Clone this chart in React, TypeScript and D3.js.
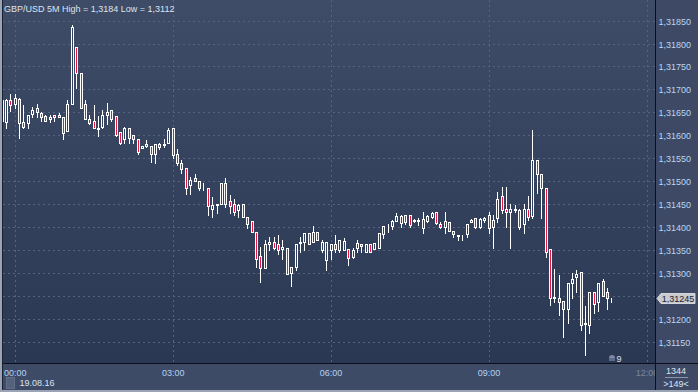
import React from 'react';
import * as d3 from 'd3';

// 5-minute candles, first one at 23:45 on 18.08.16
const startTime = new Date(2016, 7, 18, 23, 45);
const opens = [
  1.31631, 1.31629, 1.31677, 1.31669, 1.31679, 1.31629, 1.31626, 1.31646, 1.31659, 1.31648,
  1.31643, 1.31635, 1.31645, 1.31645, 1.31640, 1.31610, 1.31669, 1.31792, 1.31735, 1.31668,
  1.31635, 1.31631, 1.31614, 1.31618, 1.31645, 1.31655, 1.31642, 1.31606, 1.31592, 1.31615,
  1.31600, 1.31592, 1.31573, 1.31576, 1.31577, 1.31560, 1.31581, 1.31578, 1.31584, 1.31616,
  1.31560, 1.31540, 1.31529, 1.31491, 1.31506, 1.31501, 1.31487, 1.31485, 1.31440, 1.31447,
  1.31451, 1.31495, 1.31457, 1.31451, 1.31437, 1.31451, 1.31421, 1.31412, 1.31389, 1.31336,
  1.31311, 1.31362, 1.31368, 1.31363, 1.31351, 1.31355, 1.31300, 1.31312, 1.31365, 1.31368,
  1.31386, 1.31368, 1.31389, 1.31349, 1.31328, 1.31349, 1.31362, 1.31349, 1.31349, 1.31352,
  1.31335, 1.31355, 1.31362, 1.31346, 1.31362, 1.31352, 1.31355, 1.31384, 1.31401, 1.31402,
  1.31413, 1.31408, 1.31426, 1.31426, 1.31413, 1.31414, 1.31397, 1.31413, 1.31422, 1.31432,
  1.31406, 1.31400, 1.31411, 1.31391, 1.31382, 1.31382, 1.31384, 1.31410, 1.31419, 1.31400,
  1.31415, 1.31426, 1.31400, 1.31420, 1.31467, 1.31440, 1.31432, 1.31440, 1.31436, 1.31406,
  1.31440, 1.31424, 1.31546, 1.31515, 1.31486, 1.31351, 1.31245, 1.31246, 1.31238, 1.31221,
  1.31277, 1.31291, 1.31301, 1.31190, 1.31187, 1.31258, 1.31237, 1.31282, 1.31258, 1.31246,
];
const highs = [
  1.31685, 1.31679, 1.31690, 1.31690, 1.31681, 1.31666, 1.31645, 1.31661, 1.31669, 1.31650,
  1.31644, 1.31644, 1.31645, 1.31649, 1.31640, 1.31677, 1.31840, 1.31792, 1.31735, 1.31677,
  1.31645, 1.31666, 1.31642, 1.31655, 1.31670, 1.31655, 1.31642, 1.31606, 1.31619, 1.31615,
  1.31600, 1.31592, 1.31577, 1.31589, 1.31577, 1.31580, 1.31582, 1.31591, 1.31616, 1.31616,
  1.31569, 1.31546, 1.31529, 1.31508, 1.31515, 1.31501, 1.31495, 1.31485, 1.31466, 1.31451,
  1.31495, 1.31506, 1.31469, 1.31462, 1.31451, 1.31451, 1.31421, 1.31412, 1.31389, 1.31357,
  1.31371, 1.31379, 1.31379, 1.31382, 1.31371, 1.31355, 1.31312, 1.31362, 1.31379, 1.31386,
  1.31386, 1.31402, 1.31389, 1.31371, 1.31368, 1.31362, 1.31382, 1.31371, 1.31376, 1.31352,
  1.31354, 1.31371, 1.31362, 1.31362, 1.31362, 1.31366, 1.31386, 1.31402, 1.31406, 1.31415,
  1.31430, 1.31426, 1.31426, 1.31426, 1.31417, 1.31419, 1.31432, 1.31427, 1.31432, 1.31432,
  1.31411, 1.31433, 1.31411, 1.31391, 1.31382, 1.31383, 1.31406, 1.31417, 1.31420, 1.31419,
  1.31421, 1.31432, 1.31426, 1.31477, 1.31488, 1.31488, 1.31451, 1.31448, 1.31440, 1.31451,
  1.31468, 1.31611, 1.31546, 1.31515, 1.31486, 1.31351, 1.31308, 1.31295, 1.31238, 1.31277,
  1.31300, 1.31307, 1.31301, 1.31227, 1.31258, 1.31258, 1.31277, 1.31286, 1.31266, 1.31246,
];
const lows = [
  1.31629, 1.31615, 1.31653, 1.31660, 1.31595, 1.31615, 1.31615, 1.31640, 1.31640, 1.31632,
  1.31630, 1.31629, 1.31632, 1.31639, 1.31591, 1.31610, 1.31669, 1.31702, 1.31660, 1.31635,
  1.31625, 1.31615, 1.31599, 1.31615, 1.31625, 1.31631, 1.31599, 1.31580, 1.31584, 1.31584,
  1.31584, 1.31560, 1.31573, 1.31575, 1.31542, 1.31539, 1.31570, 1.31575, 1.31584, 1.31551,
  1.31535, 1.31517, 1.31472, 1.31472, 1.31502, 1.31480, 1.31480, 1.31426, 1.31422, 1.31431,
  1.31451, 1.31443, 1.31430, 1.31425, 1.31422, 1.31422, 1.31397, 1.31389, 1.31312, 1.31280,
  1.31311, 1.31349, 1.31351, 1.31342, 1.31331, 1.31297, 1.31271, 1.31306, 1.31346, 1.31349,
  1.31363, 1.31368, 1.31371, 1.31345, 1.31306, 1.31331, 1.31346, 1.31346, 1.31349, 1.31317,
  1.31332, 1.31346, 1.31346, 1.31346, 1.31346, 1.31352, 1.31355, 1.31375, 1.31389, 1.31395,
  1.31413, 1.31400, 1.31406, 1.31400, 1.31411, 1.31404, 1.31386, 1.31411, 1.31419, 1.31406,
  1.31397, 1.31386, 1.31391, 1.31379, 1.31371, 1.31371, 1.31379, 1.31410, 1.31397, 1.31397,
  1.31411, 1.31386, 1.31355, 1.31411, 1.31430, 1.31400, 1.31355, 1.31432, 1.31395, 1.31386,
  1.31415, 1.31419, 1.31473, 1.31420, 1.31335, 1.31230, 1.31237, 1.31208, 1.31160, 1.31191,
  1.31244, 1.31258, 1.31175, 1.31120, 1.31168, 1.31213, 1.31216, 1.31249, 1.31221, 1.31237,
];
const closes = [
  1.31677, 1.31677, 1.31665, 1.31681, 1.31627, 1.31617, 1.31645, 1.31655, 1.31650, 1.31640,
  1.31630, 1.31640, 1.31640, 1.31640, 1.31605, 1.31669, 1.31835, 1.31735, 1.31660, 1.31635,
  1.31626, 1.31615, 1.31616, 1.31645, 1.31651, 1.31635, 1.31600, 1.31584, 1.31615, 1.31594,
  1.31592, 1.31564, 1.31577, 1.31580, 1.31560, 1.31580, 1.31575, 1.31581, 1.31611, 1.31557,
  1.31540, 1.31526, 1.31485, 1.31502, 1.31501, 1.31486, 1.31488, 1.31445, 1.31448, 1.31451,
  1.31495, 1.31451, 1.31445, 1.31432, 1.31447, 1.31422, 1.31406, 1.31389, 1.31331, 1.31311,
  1.31362, 1.31368, 1.31355, 1.31349, 1.31357, 1.31297, 1.31312, 1.31362, 1.31368, 1.31386,
  1.31363, 1.31389, 1.31371, 1.31367, 1.31368, 1.31362, 1.31352, 1.31371, 1.31369, 1.31333,
  1.31349, 1.31366, 1.31359, 1.31362, 1.31346, 1.31366, 1.31386, 1.31402, 1.31402, 1.31413,
  1.31424, 1.31424, 1.31411, 1.31404, 1.31415, 1.31415, 1.31417, 1.31424, 1.31430, 1.31408,
  1.31400, 1.31413, 1.31391, 1.31384, 1.31381, 1.31383, 1.31406, 1.31415, 1.31400, 1.31417,
  1.31420, 1.31397, 1.31416, 1.31461, 1.31436, 1.31432, 1.31440, 1.31436, 1.31400, 1.31440,
  1.31421, 1.31546, 1.31515, 1.31485, 1.31346, 1.31246, 1.31247, 1.31237, 1.31221, 1.31277,
  1.31286, 1.31297, 1.31187, 1.31189, 1.31258, 1.31232, 1.31277, 1.31250, 1.31246, 1.31245,
];

const priceTicks = [1.3115, 1.312, 1.3125, 1.313, 1.3135, 1.314, 1.3145, 1.315, 1.3155, 1.316, 1.3165, 1.317, 1.3175, 1.318, 1.3185];
const timeTickLabels = ['00:00', '03:00', '06:00', '09:00', '12:00'];
const timeTickHours = [0, 3, 6, 9, 12];
const title = 'GBP/USD 5M High = 1,3184 Low = 1,3112';
const lastPrice = 1.31245;
const dateLabel = '19.08.16';
const cornerTop = '1344';
const cornerBottom = '>149<';
const barsLeft = '9';

const W = 698;
const H = 392;
const plotRight = 655;
const plotBottom = 363;
const FONT = '"Liberation Sans", Arial, sans-serif';

const fmtPrice = (p: number) => p.toFixed(5).replace('.', ',');

export default function App() {
  const x = d3
    .scaleTime()
    .domain([new Date(2016, 7, 19, 0, 0), new Date(2016, 7, 19, 12, 0)])
    .range([15.2, 647]);
  const y = d3.scaleLinear().domain([1.3115, 1.3185]).range([341.6, 20.6]);

  const candles = opens.map((o, i) => ({
    t: new Date(startTime.getTime() + i * 5 * 60 * 1000),
    o,
    h: highs[i],
    l: lows[i],
    c: closes[i],
  }));

  const red = '#e3173f';
  const white = '#ffffff';
  const ly = Math.round(y(lastPrice));

  return (
    <svg
      width={W}
      height={H}
      style={{ position: 'fixed', left: 0, top: 0, display: 'block' }}
      fontFamily={FONT}
    >
      <defs>
        <linearGradient id="plotbg" x1="0" y1="0" x2="0" y2="1">
          <stop offset="0" stopColor="#3f4c68" />
          <stop offset="1" stopColor="#2b3853" />
        </linearGradient>
        <clipPath id="plotclip">
          <rect x={3} y={0} width={plotRight - 3} height={plotBottom} />
        </clipPath>
        <clipPath id="botclip">
          <rect x={3} y={plotBottom} width={plotRight - 3} height={H - plotBottom} />
        </clipPath>
      </defs>

      {/* backgrounds */}
      <rect x={0} y={0} width={W} height={H} fill="#3d4965" />
      <rect x={3} y={0} width={plotRight - 3} height={plotBottom} fill="url(#plotbg)" />
      <rect x={3} y={plotBottom + 1} width={plotRight - 3} height={H - plotBottom - 3} fill="#3e4b67" />

      {/* grid */}
      <g clipPath="url(#plotclip)">
        {priceTicks.map((p) => (
          <line
            key={'h' + p}
            x1={3}
            x2={plotRight}
            y1={Math.round(y(p)) + 0.5}
            y2={Math.round(y(p)) + 0.5}
            stroke="#56637e"
            strokeDasharray="2,3"
          />
        ))}
        {timeTickHours.map((hh) => {
          const xx = Math.round(x(new Date(2016, 7, 19, hh, 0))) + 0.5;
          return (
            <line key={'v' + hh} x1={xx} x2={xx} y1={0} y2={plotBottom} stroke="#56637e" strokeDasharray="2,3" />
          );
        })}
      </g>

      {/* candles */}
      <g clipPath="url(#plotclip)">
        {candles.map((d, i) => {
          const cx = x(d.t);
          const left = Math.round(cx - 1.5);
          const top = Math.round(y(Math.max(d.o, d.c)));
          const bot = Math.round(y(Math.min(d.o, d.c)));
          const up = d.c >= d.o;
          return (
            <g key={i}>
              <line
                x1={left + 1.5}
                x2={left + 1.5}
                y1={Math.round(y(d.h))}
                y2={Math.round(y(d.l)) + 1}
                stroke={white}
                strokeWidth={1}
              />
              <rect
                x={left + 0.5}
                y={top + 0.5}
                width={2}
                height={Math.max(0, bot - top)}
                fill={up ? '#34415d' : red}
                stroke={white}
                strokeWidth={1}
              />
            </g>
          );
        })}
      </g>

      {/* title */}
      <text x={4} y={12} fontSize={9} fill="#dce4ef">
        {title}
      </text>

      {/* bars counter */}
      <circle cx={612} cy={358} r={3} fill="#7d8aa3" />
      <rect x={609} y={358} width={6} height={3} fill="#5d6c88" />
      <text x={616.5} y={361.5} fontSize={9} fill="#dce4ef">
        {barsLeft}
      </text>

      {/* frame lines */}
      <line x1={plotRight + 0.5} x2={plotRight + 0.5} y1={0} y2={H} stroke="#0b0f18" />
      <line x1={0} x2={W} y1={plotBottom + 0.5} y2={plotBottom + 0.5} stroke="#0b0f18" />

      {/* right price axis (the label under the last-price marker is hidden) */}
      {priceTicks
        .filter((p) => Math.abs(y(p) - y(lastPrice)) > 8)
        .map((p) => (
          <text key={'pt' + p} x={658.5} y={Math.round(y(p)) + 3.5} fontSize={9} fill="#bcd5f0">
            {fmtPrice(p)}
          </text>
        ))}

      {/* last price marker */}
      <g>
        <path
          d={`M657 ${ly + 0.5} L661 ${ly - 4.5} L695 ${ly - 4.5} L695 ${ly + 5.5} L661 ${ly + 5.5} Z`}
          fill="#c9cbcf"
          stroke="#e9eaec"
          strokeWidth={0.8}
        />
        <text x={678} y={ly + 4} fontSize={9} fill="#1c2230" textAnchor="middle">
          {fmtPrice(lastPrice)}
        </text>
      </g>

      {/* bottom time axis */}
      <g clipPath="url(#botclip)">
        {timeTickLabels.map((lab, i) => {
          const xx = x(new Date(2016, 7, 19, timeTickHours[i], 0));
          const last = i === timeTickLabels.length - 1;
          return (
            <text
              key={lab}
              x={i === 0 ? 4 : xx}
              y={375.5}
              fontSize={9}
              fill={last ? '#7b879c' : '#b3d3f3'}
              textAnchor={i === 0 ? 'start' : 'middle'}
            >
              {lab}
            </text>
          );
        })}
      </g>
      <rect x={6.5} y={377.5} width={8} height={11} fill="#55627c" stroke="#6a7690" strokeWidth={0.8} />
      <text x={19.5} y={385.5} fontSize={9} fill="#dce4ef">
        {dateLabel}
      </text>

      {/* corner box */}
      <text x={676} y={374} fontSize={9} fill="#dce4ef" textAnchor="middle">
        {cornerTop}
      </text>
      <line x1={665} x2={688} y1={377.5} y2={377.5} stroke="#8995aa" />
      <text x={676} y={387} fontSize={9} fill="#dce4ef" textAnchor="middle">
        {cornerBottom}
      </text>

      {/* outer border */}
      <rect x={0} y={0} width={2} height={H} fill="#9aa4b4" />
      <rect x={2} y={0} width={1} height={H} fill="#1a2131" />
      <rect x={0} y={H - 2} width={W} height={2} fill="#9aa4b4" />
    </svg>
  );
}
